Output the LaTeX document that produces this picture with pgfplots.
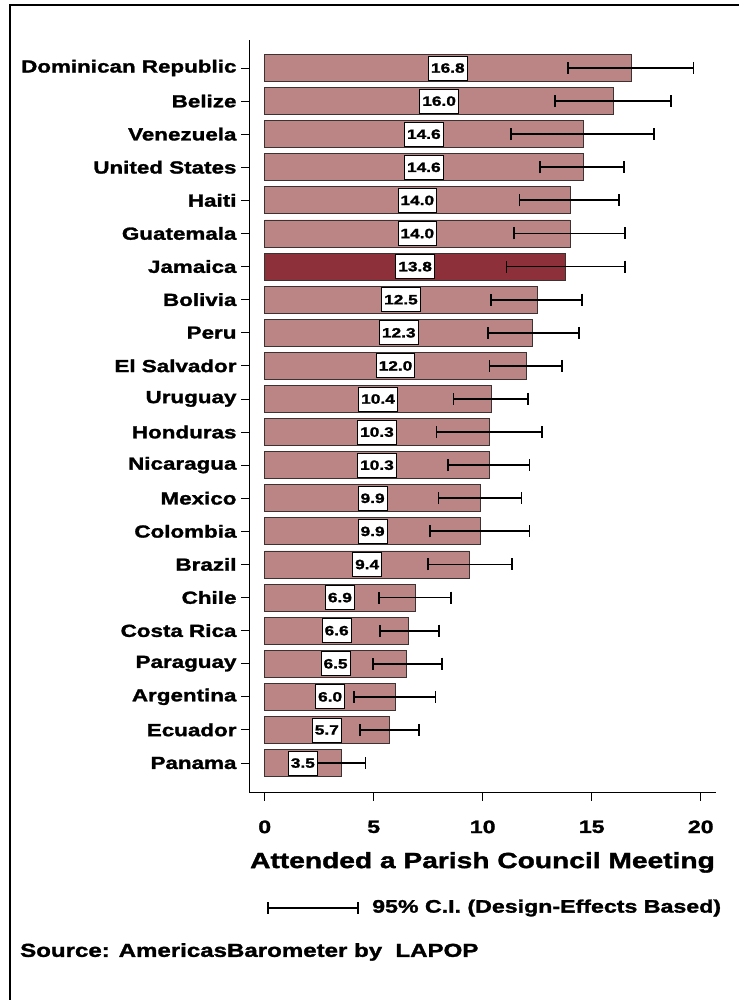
\documentclass[border=0pt]{standalone}
\usepackage{pgfplots}
\pgfplotsset{compat=1.18}
\usepackage{pgfplotstable}
\usepackage{fontspec}
\setmainfont{Liberation Sans}
\newfontfamily\blk{Liberation Sans}[FakeStretch=1.28, FakeBold=1.6]
\definecolor{barpink}{RGB}{188,133,133}
\definecolor{bardark}{RGB}{142,48,58}
\definecolor{baredge}{RGB}{60,50,50}

\pgfplotstableread{
idx val lo hi lbl
21 16.8 13.90 19.67 16.8
20 16.0 13.33 18.63 16.0
19 14.6 11.29 17.87 14.6
18 14.6 12.64 16.48 14.6
17 14.0 11.69 16.25 14.0
16 14.0 11.44 16.54 14.0
14 12.5 10.37 14.57 12.5
13 12.3 10.23 14.43 12.3
12 12.0 10.31 13.63 12.0
11 10.4 8.66 12.06 10.4
10 10.3 7.88 12.72 10.3
9 10.3 8.42 12.15 10.3
8 9.9 7.97 11.78 9.9
7 9.9 7.58 12.15 9.9
6 9.4 7.49 11.36 9.4
5 6.9 5.25 8.55 6.9
4 6.6 5.29 7.98 6.6
3 6.5 4.95 8.14 6.5
2 6.0 4.08 7.83 6.0
1 5.7 4.37 7.09 5.7
0 3.5 2.38 4.62 3.5
}\others

\pgfplotstableread{
idx val lo hi lbl
15 13.8 11.09 16.51 13.8
}\jamaica

\begin{document}
\begin{tikzpicture}[x=1pt,y=1pt]
\path[use as bounding box] (0,0) rectangle (738,1000);
\draw[line width=1.6pt] (10,-2) -- (10,995) -- (740,995);
\begin{axis}[
  at={(249pt,207pt)}, anchor=south west,
  scale only axis, width=467pt, height=753pt,
  xmin=-0.72, xmax=20.7, ymin=-0.906, ymax=21.846,
  axis lines*=left,
  axis line style={line width=1pt, -},
  xtick={0,5,10,15,20},
  ytick={0,...,21},
  yticklabels={Panama,Ecuador,Argentina,Paraguay,Costa Rica,Chile,Brazil,Colombia,Mexico,Nicaragua,Honduras,Uruguay,El Salvador,Peru,Bolivia,Jamaica,Guatemala,Haiti,United States,Venezuela,Belize,Dominican Republic},
  tick align=outside,
  tick style={black, line width=0.9pt},
  major tick length=8pt,
  /pgf/number format/assume math mode=true,
  xticklabel style={font=\blk\fontsize{18}{18}\selectfont\bfseries, yshift=-16pt},
  yticklabel style={font=\blk\fontsize{17.5}{17.5}\selectfont\bfseries, xshift=-1pt},
  xlabel={Attended a Parish Council Meeting},
  xlabel style={font=\blk\fontsize{22}{22}\selectfont\bfseries, yshift=-12pt},
  clip=false,
]
\addplot[xbar, bar shift=0pt, bar width=0.815, fill=barpink, draw=baredge, line width=0.8pt,
  error bars/.cd, x dir=both, x explicit, error mark=|,
  error bar style={black, line width=1.8pt},
  error mark options={black, line width=1.8pt, mark size=6pt}]
  table[x=val, y=idx, x error plus expr=\thisrow{hi}-\thisrow{val}, x error minus expr=\thisrow{val}-\thisrow{lo}] {\others};
\addplot[xbar, bar shift=0pt, bar width=0.815, fill=bardark, draw=baredge, line width=0.8pt,
  error bars/.cd, x dir=both, x explicit, error mark=|,
  error bar style={black, line width=1.8pt},
  error mark options={black, line width=1.8pt, mark size=6pt}]
  table[x=val, y=idx, x error plus expr=\thisrow{hi}-\thisrow{val}, x error minus expr=\thisrow{val}-\thisrow{lo}] {\jamaica};
\addplot[draw=none, mark=none, nodes near coords, point meta=explicit symbolic,
  nodes near coords align=center,
  every node near coord/.append style={fill=white, draw=black, line width=0.8pt, anchor=center,
    font=\blk\fontsize{13.5}{13.5}\selectfont\bfseries, inner xsep=2.5pt, inner ysep=0pt, minimum height=24pt, text depth=0pt}]
  table[x expr=\thisrow{val}/2, y=idx, meta=lbl] {\others};
\addplot[draw=none, mark=none, nodes near coords, point meta=explicit symbolic,
  nodes near coords align=center,
  every node near coord/.append style={fill=white, draw=black, line width=0.8pt, anchor=center,
    font=\blk\fontsize{13.5}{13.5}\selectfont\bfseries, inner xsep=2.5pt, inner ysep=0pt, minimum height=24pt, text depth=0pt}]
  table[x expr=\thisrow{val}/2, y=idx, meta=lbl] {\jamaica};
\end{axis}
% legend for the confidence interval
\draw[line width=1.6pt] (268,92) -- (358,92);
\draw[line width=1.6pt] (268,86) -- (268,98);
\draw[line width=1.6pt] (358,86) -- (358,98);
\node[anchor=west, font=\blk\fontsize{18.1}{18.1}\selectfont\bfseries, inner sep=0pt] at (372,92) {95\% C.I. (Design-Effects Based)};
\node[anchor=west, font=\blk\fontsize{18.8}{18.8}\selectfont\bfseries, inner sep=0pt] at (20,48) {Source: AmericasBarometer by\ \ LAPOP};
\end{tikzpicture}
\end{document}
